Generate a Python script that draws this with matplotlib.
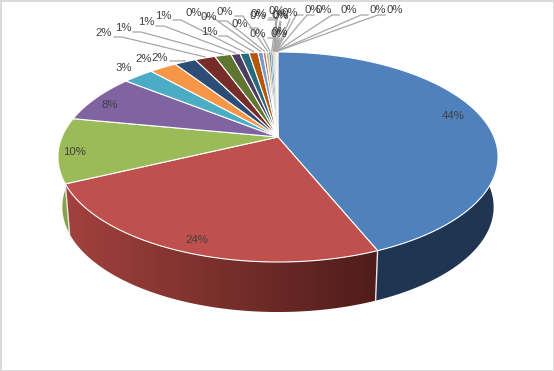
import numpy as np
import matplotlib
matplotlib.use("Agg")
import matplotlib.pyplot as plt
from matplotlib.colors import LinearSegmentedColormap
from matplotlib.patches import Polygon, Rectangle

# slice values, clockwise from 12 o'clock
values = [43.8, 24.2, 10.0, 7.6, 2.7, 2.4, 1.9, 1.8, 1.45, 0.8, 0.8, 0.78,
          0.45, 0.26, 0.26, 0.17, 0.17, 0.10,
          0.03, 0.03, 0.03, 0.03, 0.03, 0.03, 0.03, 0.03, 0.03, 0.03, 0.03, 0.03]
colors = ['#4F81BD', '#C0504D', '#9BBB59', '#8064A2', '#4BACC6', '#F79646',
          '#2C4D75', '#772C2A', '#5F7530', '#4D3B62', '#276A7C', '#B65708',
          '#729ACA', '#CD7371', '#AFC97A', '#9983B5', '#6FBDD1', '#F9AA6B',
          '#3A679C', '#9E3B38', '#7F9C40', '#664F82', '#358EA6', '#CF7428',
          '#95B3D7', '#D99694', '#C3D69B', '#B3A2C7', '#93CDDD', '#FAC090']
# side wall colours (left end, right end), only these three can be seen
wall_colors = [('#1F3552', '#1F3552'), ('#A5433F', '#4C1B19'), ('#86A34A', '#86A34A')]

# label centres in pixels
label_pos = [(453, 116), (197, 240), (75, 152), (110, 105), (124, 68), (144, 59),
             (160, 58), (104, 33), (123, 28), (146, 22), (163, 16), (209, 32),
             (194, 13), (209, 17), (225, 12), (240, 24), (258, 16), (259, 14),
             (258, 34), (277, 11), (280, 15), (280, 32), (279, 34), (281, 16),
             (290, 13), (313, 10), (324, 10), (349, 10), (378, 10), (395, 10)]

# pie geometry, perspective view of a circle
cx, cy = 278, 137
a, b, k = 216, 101.2, 0.1905
depth = 50


def rim(theta):
    u, v = np.sin(theta), np.cos(theta)
    return cx + a*u/(1+k*v), cy - b*v/(1+k*v)


def wall_bottom(x, y):
    return cx + (x-cx)*0.98, y + depth


fig = plt.figure(figsize=(5.54, 3.71), dpi=100)
ax = fig.add_axes((0, 0, 1, 1))
ax.add_patch(Rectangle((0.5, 0.5), 553, 370, fc='white', ec='#D9D9D9', lw=1.4, zorder=0))

edges = np.cumsum([0] + values)/np.sum(values)*2*np.pi

# side walls, gradient image clipped to each wall outline
for i, (c0, c1) in enumerate(wall_colors):
    th = np.linspace(edges[i], edges[i+1], 200)
    x, y = rim(th)
    xb, yb = wall_bottom(x, y)
    pts = list(zip(x, y)) + list(zip(xb[::-1], yb[::-1]))
    patch = Polygon(pts, fc='none', ec='none')
    ax.add_patch(patch)
    cmap = LinearSegmentedColormap.from_list('wall', [c0, c1])
    # only the part in front of the widest point shows, so grade over that part
    vis = y > cy
    x0, x1 = x[vis].min(), x[vis].max()
    im = ax.imshow(np.linspace(0, 1, 256).reshape(1, -1), cmap=cmap, aspect='auto',
                   extent=(x0-10, x1+10, 330, 100), zorder=1)
    im.set_clip_path(patch)
for i in [1, 2]:
    x, y = rim(edges[i])
    xb, yb = wall_bottom(x, y)
    ax.plot([x, xb], [y, yb], color='#E8E8E8', lw=1.0, zorder=1.5)

# top face
for i, v in enumerate(values):
    th = np.linspace(edges[i], edges[i+1], max(3, int(v*8)))
    x, y = rim(th)
    pts = [(cx, cy)] + list(zip(x, y))
    ax.add_patch(Polygon(pts, fc=colors[i], ec='white', lw=0.8 if v > 0.2 else 0.25, zorder=2))

# leader lines
for i, (lx, ly) in enumerate(label_pos):
    if i < 7:
        continue
    mid = (edges[i]+edges[i+1])/2
    x, y = rim(mid)
    if lx < 270:
        px = [lx+10, lx+18, x]
        py = [ly+4, ly+4, y-1]
    elif lx > 300:
        px = [lx-10, lx-17, x]
        py = [ly+5, ly+5, y-1]
    else:
        px = [lx, x]
        py = [ly+6, y-1]
    ax.plot(px, py, color='#A6A6A6', lw=0.9, zorder=4)
# short stub for the dark blue label
x, y = rim((edges[6]+edges[7])/2)
ax.plot([170, x], [61, y-1], color='#A6A6A6', lw=0.9, zorder=4)

for i, (lx, ly) in enumerate(label_pos):
    ax.text(lx, ly, '%.0f%%' % values[i], ha='center', va='center', color='#404040',
            fontsize=8.2, family='Liberation Sans', zorder=5)

ax.set_xlim(0, 554)
ax.set_ylim(371, 0)
ax.axis('off')
plt.savefig("out.png", dpi=100)
